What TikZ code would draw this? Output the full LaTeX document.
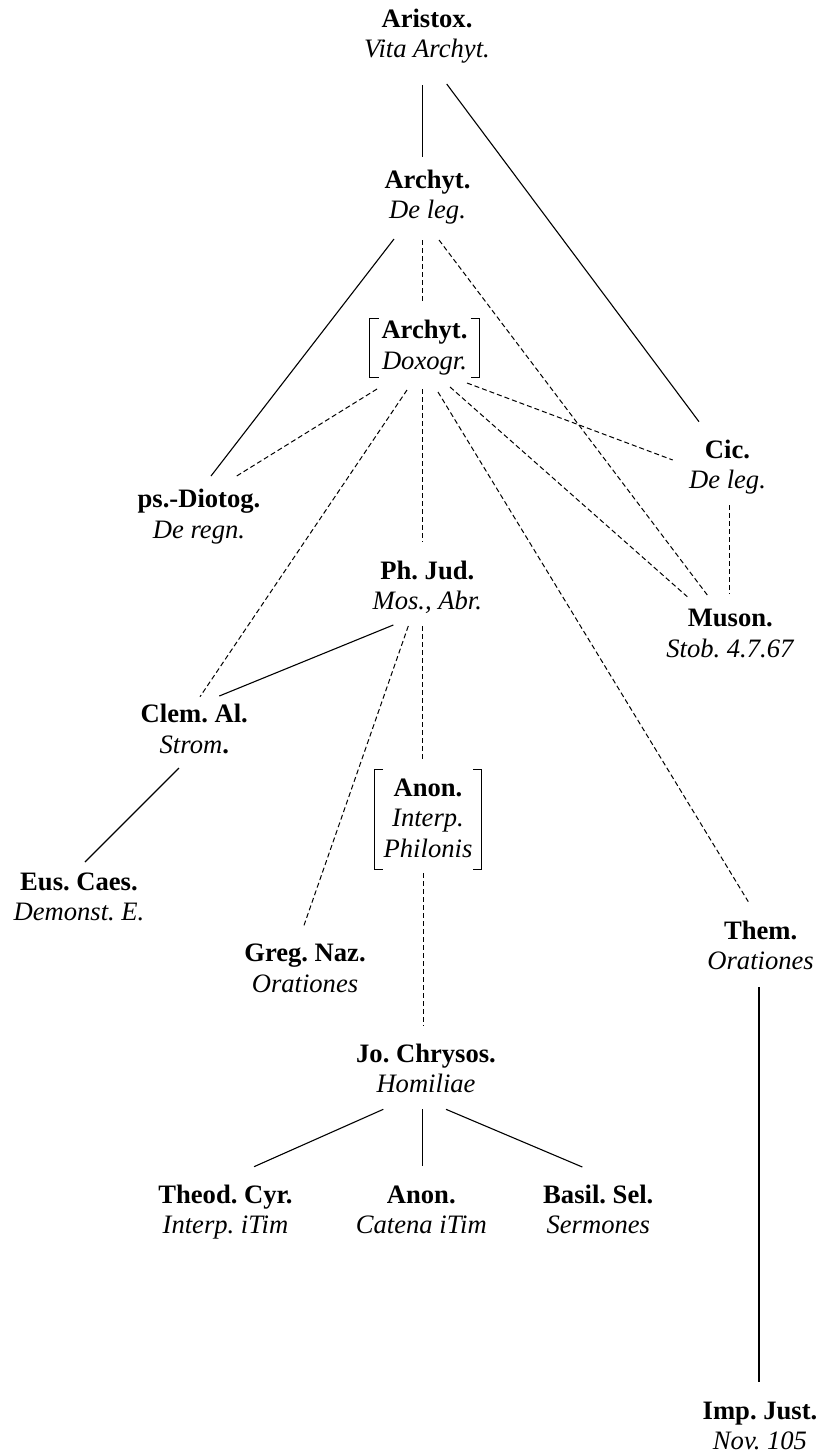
\documentclass[tikz,border=0pt]{standalone}
\usepackage{fontspec}
\setmainfont{Liberation Serif}
\usetikzlibrary{calc}
\frenchspacing
\newcommand\twol[2]{\begin{tabular}[t]{@{}c@{}}\textbf{#1}\\\textit{#2}\end{tabular}}
\tikzset{
  lbl/.style={anchor=base,inner sep=0pt,font=\fontsize{26.6}{30.5}\selectfont\frenchspacing},
  sline/.style={line width=1.1pt},
  dline/.style={line width=1pt,dash pattern=on 5pt off 3pt},
  brk/.style={line width=1pt}
}
\begin{document}
\begin{tikzpicture}[x=1pt,y=-1pt]
\useasboundingbox (0,0) rectangle (821,1454);
% nodes
\node[lbl] (aristox) at (427,27.3) {\twol{Aristox.}{Vita Archyt.}};
\node[lbl] (archleg) at (427.5,188.3) {\twol{Archyt.}{De leg.}};
\node[lbl] (doxogr) at (424.5,338.7) {\twol{Archyt.}{Doxogr.}};
\node[lbl] (cic) at (727.5,458.3) {\twol{Cic.}{De leg.}};
\node[lbl] (diotog) at (199,507.5) {\twol{ps.-Diotog.}{De regn.}};
\node[lbl] (phjud) at (427.3,579.3) {\twol{Ph. Jud.}{Mos., Abr.}};
\node[lbl] (muson) at (730.3,626.7) {\twol{Muson.}{Stob. 4.7.67}};
\node[lbl] (clem) at (194.3,722.7) {\begin{tabular}[t]{@{}c@{}}\textbf{Clem. Al.}\\\textit{Strom}\textbf{.}\end{tabular}};
\node[lbl] (anon) at (428,796.3) {\begin{tabular}[t]{@{}c@{}}\textbf{Anon.}\\\textit{Interp.}\\\textit{Philonis}\end{tabular}};
\node[lbl] (eus) at (79,890) {\twol{Eus. Caes.}{Demonst. E.}};
\node[lbl] (them) at (760.6,939.3) {\twol{Them.}{Orationes}};
\node[lbl] (greg) at (305,961.7) {\twol{Greg. Naz.}{Orationes}};
\node[lbl] (jo) at (426,1062) {\twol{Jo. Chrysos.}{Homiliae}};
\node[lbl] (theod) at (225.5,1203) {\twol{Theod. Cyr.}{Interp. iTim}};
\node[lbl] (anoncat) at (421.3,1203) {\twol{Anon.}{Catena iTim}};
\node[lbl] (basil) at (598.3,1203) {\twol{Basil. Sel.}{Sermones}};
\node[lbl] (imp) at (760,1419.3) {\twol{Imp. Just.}{Nov. 105}};
% brackets
\draw[brk] ($(doxogr.base)+(-46,-20.4)$) -- ++(-9,0) -- ++(0,59) -- ++(9,0);
\draw[brk] ($(doxogr.base)+(46,-20.4)$) -- ++(9,0) -- ++(0,59) -- ++(-9,0);
\draw[brk] ($(anon.base)+(-45,-27)$) -- ++(-8.5,0) -- ++(0,100.2) -- ++(8.5,0);
\draw[brk] ($(anon.base)+(45,-27)$) -- ++(8.5,0) -- ++(0,100.2) -- ++(-8.5,0);
% connectors
\draw[sline] ($(aristox.base)+(-4.3,57.7)$) -- ($(archleg.base)+(-4.8,-31.6)$);
\draw[sline] ($(aristox.base)+(19.7,56.7)$) -- ($(cic.base)+(-28.5,-36.6)$);
\draw[sline] ($(archleg.base)+(-33.5,50.7)$) -- ($(diotog.base)+(12,-31.5)$);
\draw[dline] ($(archleg.base)+(-4.8,51.7)$) -- ($(doxogr.base)+(-1.8,-36.7)$);
\draw[dline] ($(archleg.base)+(11.5,51.7)$) -- ($(muson.base)+(-23,-31.7)$);
\draw[dline] ($(doxogr.base)+(-47.5,50.3)$) -- ($(diotog.base)+(37.7,-31.5)$);
\draw[dline] ($(doxogr.base)+(-17.5,51.3)$) -- ($(clem.base)+(5.7,-26)$);
\draw[dline] ($(doxogr.base)+(-1.8,50.3)$) -- ($(phjud.base)+(-4.6,-37)$);
\draw[dline] ($(doxogr.base)+(42.5,44.3)$) -- ($(cic.base)+(-54.8,1.7)$);
\draw[dline] ($(doxogr.base)+(25.5,48.3)$) -- ($(muson.base)+(-43,-30)$);
\draw[dline] ($(doxogr.base)+(13.5,53.3)$) -- ($(them.base)+(-12.3,-37.6)$);
\draw[dline] ($(cic.base)+(1.5,46.7)$) -- ($(muson.base)+(-1.3,-33.4)$);
\draw[sline] ($(phjud.base)+(-34,45.7)$) -- ($(clem.base)+(25,-26.7)$);
\draw[dline] ($(phjud.base)+(-19,46.7)$) -- ($(greg.base)+(-1.7,-34.4)$);
\draw[dline] ($(phjud.base)+(-4.6,46.7)$) -- ($(anon.base)+(-5.3,-36.3)$);
\draw[sline] ($(clem.base)+(-15.3,45.3)$) -- ($(eus.base)+(6,-28)$);
\draw[dline] ($(anon.base)+(-4.7,77)$) -- ($(jo.base)+(-2.7,-36)$);
\draw[sline] ($(them.base)+(-1.6,48)$) -- ($(imp.base)+(-1,-37.6)$);
\draw[sline] ($(jo.base)+(-42.7,47.3)$) -- ($(theod.base)+(28.5,-36.3)$);
\draw[sline] ($(jo.base)+(-3.3,47.3)$) -- ($(anoncat.base)+(1.4,-37)$);
\draw[sline] ($(jo.base)+(20,47.3)$) -- ($(basil.base)+(-16,-36)$);
\end{tikzpicture}
\end{document}
